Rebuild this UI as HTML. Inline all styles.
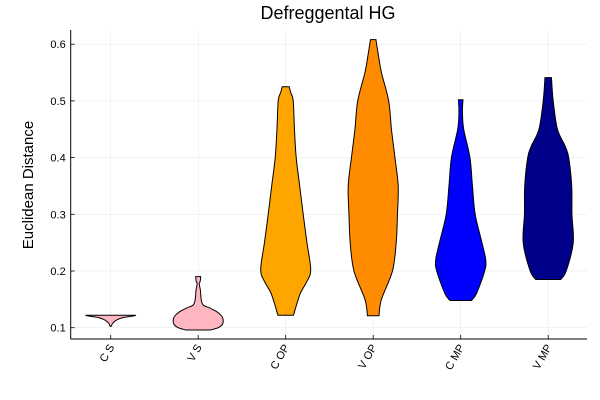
<!DOCTYPE html>
<html><head><meta charset="utf-8"><style>
body{margin:0;background:#fff}
svg{display:block;font-family:"Liberation Sans",sans-serif}
</style></head><body>
<svg id="chart" width="600" height="400" viewBox="0 0 600 400">
<text x="328" y="19" text-anchor="middle" font-size="18" fill="#000">Defreggental HG</text>
<text transform="translate(33,185) rotate(-90)" text-anchor="middle" font-size="15">Euclidean Distance</text>
<g id="grid"></g><g id="violins"></g><g id="axes"></g>
</svg>
<script>
const categories=["C S","V S","C OP","V OP","C MP","V MP"];
const colors=["#ffb6c1","#ffb6c1","#ffa500","#ff8c00","#0000ff","#00008b"];
const yTicks=[0.1,0.2,0.3,0.4,0.5,0.6];
const yTickLabels=["0.1","0.2","0.3","0.4","0.5","0.6"];
// each violin: [value, relative half-width]
const violinCS=[[0.1025,0],[0.103,0.03],[0.108,0.08],[0.114,0.25],[0.118,0.5],[0.121,0.95],[0.122,1.0]];
const violinVS=[[0.096,0.5],[0.100,0.8],[0.106,0.97],[0.113,1.0],[0.120,0.95],[0.128,0.75],[0.135,0.45],[0.140,0.2],[0.150,0.12],[0.165,0.09],[0.175,0.05],[0.178,0.04],[0.182,0.08],[0.19,0.1]];
const violinCOP=[[0.122,0.31],[0.16,0.58],[0.18,0.83],[0.202,1.0],[0.25,0.85],[0.3,0.7],[0.35,0.56],[0.4,0.42],[0.45,0.35],[0.5,0.3],[0.515,0.2],[0.525,0.14]];
const violinVOP=[[0.121,0.23],[0.15,0.33],[0.2,0.77],[0.25,0.92],[0.3,0.97],[0.35,1.0],[0.4,0.87],[0.45,0.73],[0.5,0.62],[0.55,0.33],[0.58,0.21],[0.608,0.11]];
const violinCMP=[[0.148,0.43],[0.16,0.63],[0.2,0.96],[0.22,1.0],[0.25,0.85],[0.3,0.58],[0.35,0.47],[0.4,0.37],[0.45,0.12],[0.48,0.07],[0.502,0.09]];
const violinVMP=[[0.185,0.5],[0.2,0.72],[0.25,1.0],[0.3,0.95],[0.35,0.94],[0.4,0.82],[0.42,0.68],[0.45,0.37],[0.5,0.2],[0.541,0.13]];
const violins=[violinCS,violinVS,violinCOP,violinVOP,violinCMP,violinVMP];

const L=70.7,R=587,T=30,B=339,maxHW=25;
const xPos=i=>110.7+i*87.5;
const yPos=v=>327.7-(v-0.1)*567;
const NS="http://www.w3.org/2000/svg";
function mk(tag,attrs,parent){const e=document.createElementNS(NS,tag);for(const k in attrs)e.setAttribute(k,attrs[k]);parent.appendChild(e);return e;}
const grid=document.getElementById('grid'),vg=document.getElementById('violins'),ax=document.getElementById('axes');
yTicks.forEach((t,i)=>{
  const g=mk('line',{x1:L,x2:R,y1:yPos(t),y2:yPos(t),stroke:'#000','stroke-opacity':0.1,'stroke-width':0.5},grid);
  
  
  const tk=mk('line',{x1:L,x2:L+4,y1:yPos(t),y2:yPos(t),stroke:'#000','stroke-width':0.8},ax);
  
  
  const tx=mk('text',{x:L-5,y:yPos(t)+4,'text-anchor':'end','font-size':11},ax);
  tx.textContent=yTickLabels[i];
  
  
});
categories.forEach((c,i)=>{
  const x=xPos(i);
  const g=mk('line',{x1:x,x2:x,y1:T,y2:B,stroke:'#000','stroke-opacity':0.1,'stroke-width':0.5},grid);
  
  
  const tk=mk('line',{x1:x,x2:x,y1:B,y2:B-4,stroke:'#000','stroke-width':0.8},ax);
  
  
  const tx=mk('text',{transform:`translate(${x+4},${B+8}) rotate(-60)`,'text-anchor':'end','font-size':11},ax);
  tx.textContent=c;
  
  
  const pts=violins[i];
  const right=pts.map(p=>[x+p[1]*maxHW,yPos(p[0])]);
  const left=pts.slice().reverse().map(p=>[x-p[1]*maxHW,yPos(p[0])]);
  function smooth(a){let d=`${a[0][0]},${a[0][1]}`;for(let k=0;k<a.length-1;k++){const p0=a[Math.max(0,k-1)],p1=a[k],p2=a[k+1],p3=a[Math.min(a.length-1,k+2)];d+=` C${p1[0]+(p2[0]-p0[0])/6},${p1[1]+(p2[1]-p0[1])/6} ${p2[0]-(p3[0]-p1[0])/6},${p2[1]-(p3[1]-p1[1])/6} ${p2[0]},${p2[1]}`;}return d;}
  const d='M'+smooth(right)+' L'+smooth(left)+' Z';
  const v=mk('path',{d:d,fill:colors[i],stroke:'#000','stroke-width':1},vg);
  
  
});
const xa=mk('line',{x1:L,x2:R,y1:B,y2:B,stroke:'#000','stroke-width':1},ax);


const ya=mk('line',{x1:L,x2:L,y1:T,y2:B,stroke:'#000','stroke-width':1},ax);


</script>
</body></html>
